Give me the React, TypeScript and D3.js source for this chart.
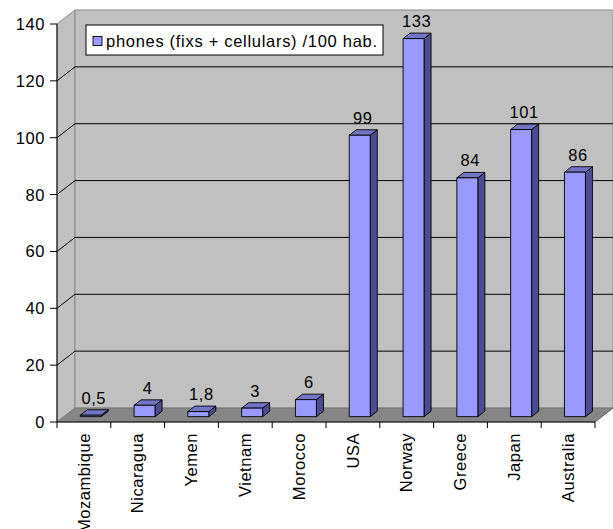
import React from "react";
import * as d3 from "d3";

// Phones (fixed + cellular) per 100 inhabitants
const categories = [
  "Mozambique",
  "Nicaragua",
  "Yemen",
  "Vietnam",
  "Morocco",
  "USA",
  "Norway",
  "Greece",
  "Japan",
  "Australia",
];
const values = [0.5, 4, 1.8, 3, 6, 99, 133, 84, 101, 86];
const yTicks = [0, 20, 40, 60, 80, 100, 120, 140];
const seriesName = "phones (fixs + cellulars) /100 hab.";

const W = 613;
const H = 529;
const FONT = "Arial, 'Liberation Sans', sans-serif";
const FS = 16.5;
const LS = 0.55;

// 3D box: depth offset of back wall relative to the front plane
const DX = 18;
const DY = -14;
// bar sits between these fractions of the depth
const F1 = 0.38;
const F2 = 0.77;

const plotLeft = 57;
const plotRight = 595;
const zeroY = 422;
const topY = 24;

const x = d3.scaleBand<string>().domain(categories).range([plotLeft, plotRight]).padding(0);
const y = d3.scaleLinear().domain([0, 140]).range([zeroY, topY]);

const fmt = d3.formatLocale({
  decimal: ",",
  thousands: ".",
  grouping: [3],
  currency: ["", ""],
}).format("");

const pts = (p: [number, number][]) => p.map((q) => q.join(",")).join(" ");

export default function App() {
  const bw = x.bandwidth();
  const barW = bw * 0.39;
  const d1x = DX * F1;
  const d1y = DY * F1;
  const ddx = DX * (F2 - F1);
  const ddy = DY * (F2 - F1);
  const y0 = y(0);
  const yMax = y(140);

  return (
    <svg
      width={W}
      height={H}
      style={{ position: "absolute", left: 0, top: 0, background: "#fff" }}
      fontFamily={FONT}
      letterSpacing={LS}
    >
      {/* side wall */}
      <polygon
        points={pts([
          [plotLeft, yMax],
          [plotLeft + DX, yMax + DY],
          [plotLeft + DX, y0 + DY],
          [plotLeft, y0],
        ])}
        fill="#c0c0c0"
        stroke="#8a8a8a"
      />
      {/* back wall */}
      <polygon
        points={pts([
          [plotLeft + DX, yMax + DY],
          [plotRight + DX, yMax + DY],
          [plotRight + DX, y0 + DY],
          [plotLeft + DX, y0 + DY],
        ])}
        fill="#c0c0c0"
        stroke="#8a8a8a"
      />
      {/* gridlines */}
      {yTicks
        .filter((t) => t > 0 && t < 140)
        .map((t) => (
          <polyline
            key={"g" + t}
            points={pts([
              [plotLeft, y(t)],
              [plotLeft + DX, y(t) + DY],
              [plotRight + DX, y(t) + DY],
            ])}
            fill="none"
            stroke="#000"
            strokeWidth={1}
          />
        ))}
      {/* floor */}
      <polygon
        points={pts([
          [plotLeft, y0],
          [plotLeft + DX, y0 + DY],
          [plotRight + DX, y0 + DY],
          [plotRight, y0],
        ])}
        fill="#868686"
        stroke="#6a6a6a"
        strokeWidth={0.6}
      />

      {/* bars */}
      {categories.map((c, i) => {
        const v = values[i];
        const fx = (x(c) as number) + bw / 2 - barW / 2 + d1x;
        const fb = y0 + d1y;
        const ft = y(v) + d1y;
        return (
          <g key={c} stroke="#000" strokeWidth={0.9} strokeLinejoin="round">
            <polygon
              points={pts([
                [fx + barW, ft],
                [fx + barW + ddx, ft + ddy],
                [fx + barW + ddx, fb + ddy],
                [fx + barW, fb],
              ])}
              fill="#4c4c8e"
            />
            <polygon
              points={pts([
                [fx, ft],
                [fx + barW, ft],
                [fx + barW + ddx, ft + ddy],
                [fx + ddx, ft + ddy],
              ])}
              fill="#7474c4"
            />
            <rect x={fx} y={ft} width={barW} height={Math.max(0, fb - ft)} fill="#9999ff" />
            <text
              x={fx + barW / 2 + 3}
              y={ft + ddy - 6}
              textAnchor="middle"
              fontSize={FS}
              fill="#000"
              stroke="none"
            >
              {fmt(v)}
            </text>
          </g>
        );
      })}

      {/* y axis */}
      <line x1={plotLeft} x2={plotLeft} y1={yMax} y2={y0} stroke="#000" />
      {yTicks.map((t) => (
        <g key={"t" + t}>
          <line x1={plotLeft - 7} x2={plotLeft} y1={y(t)} y2={y(t)} stroke="#000" />
          <text x={plotLeft - 12} y={y(t)} dy="0.36em" textAnchor="end" fontSize={FS} fill="#000">
            {t}
          </text>
        </g>
      ))}

      {/* x axis */}
      <line x1={plotLeft} x2={plotRight} y1={y0} y2={y0} stroke="#000" />
      <line x1={plotRight} x2={plotRight + DX} y1={y0} y2={y0 + DY} stroke="#6a6a6a" />
      {[...categories.map((c) => x(c) as number), plotRight].map((px, i) => (
        <line key={"xt" + i} x1={px} x2={px} y1={y0} y2={y0 + 6} stroke="#000" />
      ))}
      {categories.map((c) => {
        const cx = (x(c) as number) + bw / 2;
        const ty = 433;
        return (
          <text
            key={"xl" + c}
            transform={`translate(${cx},${ty}) rotate(-90)`}
            dy="0.35em"
            textAnchor="end"
            fontSize={FS}
            fill="#000"
          >
            {c}
          </text>
        );
      })}

      {/* legend */}
      <rect x={86} y={25} width={297} height={30} fill="#fff" stroke="#000" />
      <rect x={93} y={36.5} width={9} height={9} fill="#9999ff" stroke="#000" strokeWidth={0.9} />
      <text x={106} y={47} fontSize={FS} letterSpacing={0.7} fill="#000">
        {seriesName}
      </text>
    </svg>
  );
}
